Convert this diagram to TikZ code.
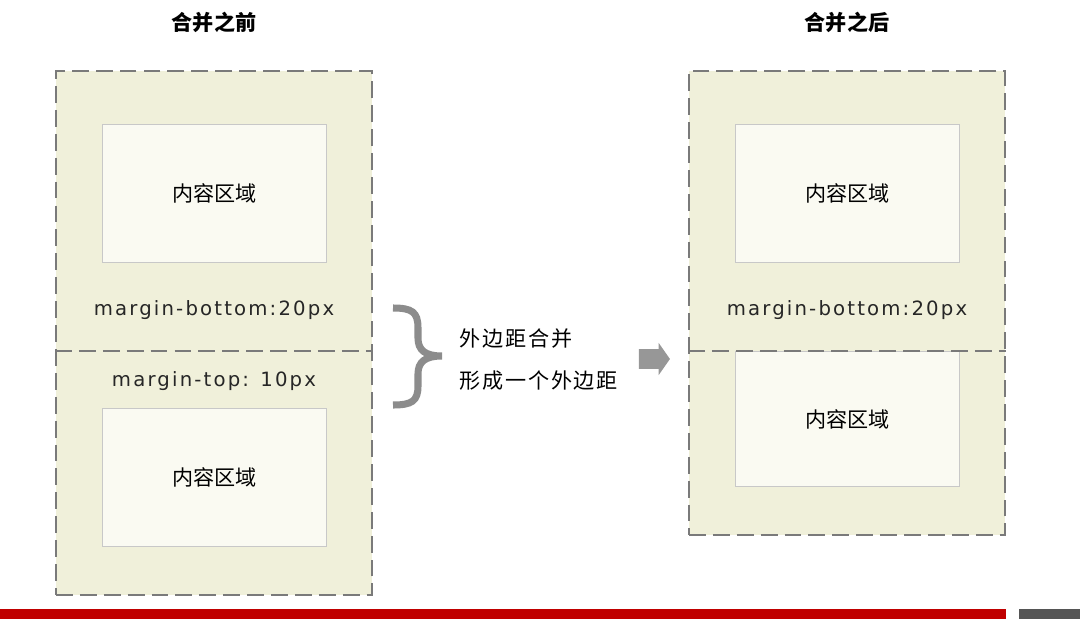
\documentclass[tikz,border=0pt]{standalone}
\usepackage{fontspec}
\setmainfont{DejaVu Sans}
\newfontfamily\cjk{Noto Sans CJK SC}
\newfontfamily\cjknote[LetterSpace=8]{Noto Sans CJK SC}
\newfontfamily\marginfont[LetterSpace=11]{DejaVu Sans}
\usetikzlibrary{positioning,shapes.arrows}
\definecolor{boxfill}{HTML}{F0F0DA}
\definecolor{innerfill}{HTML}{FAFAF2}
\definecolor{innerline}{HTML}{C8C8C8}
\definecolor{dashline}{HTML}{7A7A7A}
\definecolor{bracegray}{HTML}{8C8C8C}
\definecolor{barred}{HTML}{C00000}
\definecolor{bargray}{HTML}{555555}
\tikzset{
  outerbox/.style={draw=dashline, fill=boxfill, line width=1.3pt,
    dash pattern=on 12pt off 5pt, anchor=north west, inner sep=0pt,
    minimum width=7.9cm},
  innerbox/.style={draw=innerline, fill=innerfill, line width=0.8pt,
    anchor=north west, inner sep=0pt, minimum width=5.6cm, minimum height=3.45cm,
    font=\cjk\fontsize{15}{17}\selectfont},
  divider/.style={draw=dashline, line width=1.3pt, dash pattern=on 12pt off 5pt},
  marginlabel/.style={font=\marginfont\fontsize{14}{16}\selectfont, text=black!85},
  title/.style={font=\cjk\bfseries\fontsize{15}{17}\selectfont},
  note/.style={font=\cjknote\fontsize{15}{17}\selectfont, anchor=west},
}
\begin{document}
\begin{tikzpicture}[x=0.025cm, y=-0.025cm]
\useasboundingbox (0,0) rectangle (1080,619);

% before
\node[title] (titlebefore) at (214,22) {合并之前};
\node[outerbox, minimum height=13.1cm] (leftouter) at (55,70) {};
\node[innerbox] (lefttop) at (102,124) {内容区域};
\node[marginlabel] (leftmb) at (214,310) {margin-bottom:20px};
\draw[divider] (leftouter.west |- 0,351) -- (leftouter.east |- 0,351);
\node[marginlabel] (leftmt) at (214,381) {margin-top: 10px};
\node[innerbox] (leftbottom) at (102,408) {内容区域};

% brace and note
\draw[bracegray, line width=5pt]
  (393,308) .. controls (412,308) and (418,312) .. (418,328) -- (418,338)
  .. controls (418,350) and (425,356) .. (442,356)
  .. controls (425,356) and (418,362) .. (418,374) -- (418,386)
  .. controls (418,401) and (412,405) .. (393,405);
\node[note] (note1) at (455,339) {外边距合并};
\node[note] (note2) at (455,381) {形成一个外边距};
\node[single arrow, fill=bracegray!90, draw=none, minimum height=0.775cm,
  minimum width=0.8cm, inner sep=0pt, text height=0.475cm,
  single arrow head extend=0.16cm, single arrow tip angle=110]
  (mergearrow) at (651,359) {};

% after
\node[title] (titleafter) at (847,22) {合并之后};
\node[outerbox, minimum height=11.6cm] (rightouter) at (688,70) {};
\node[innerbox] (righttop) at (735,124) {内容区域};
\node[marginlabel] (rightmb) at (847,310) {margin-bottom:20px};
\node[innerbox, minimum height=3.375cm] (rightbottom) at (735,351) {内容区域};
\draw[divider] (rightouter.west |- 0,351) -- (rightouter.east |- 0,351);

% footer bar
\fill[barred] (0,609) rectangle (1006,619);
\fill[bargray] (1019,609) rectangle (1080,619);
\end{tikzpicture}
\end{document}
